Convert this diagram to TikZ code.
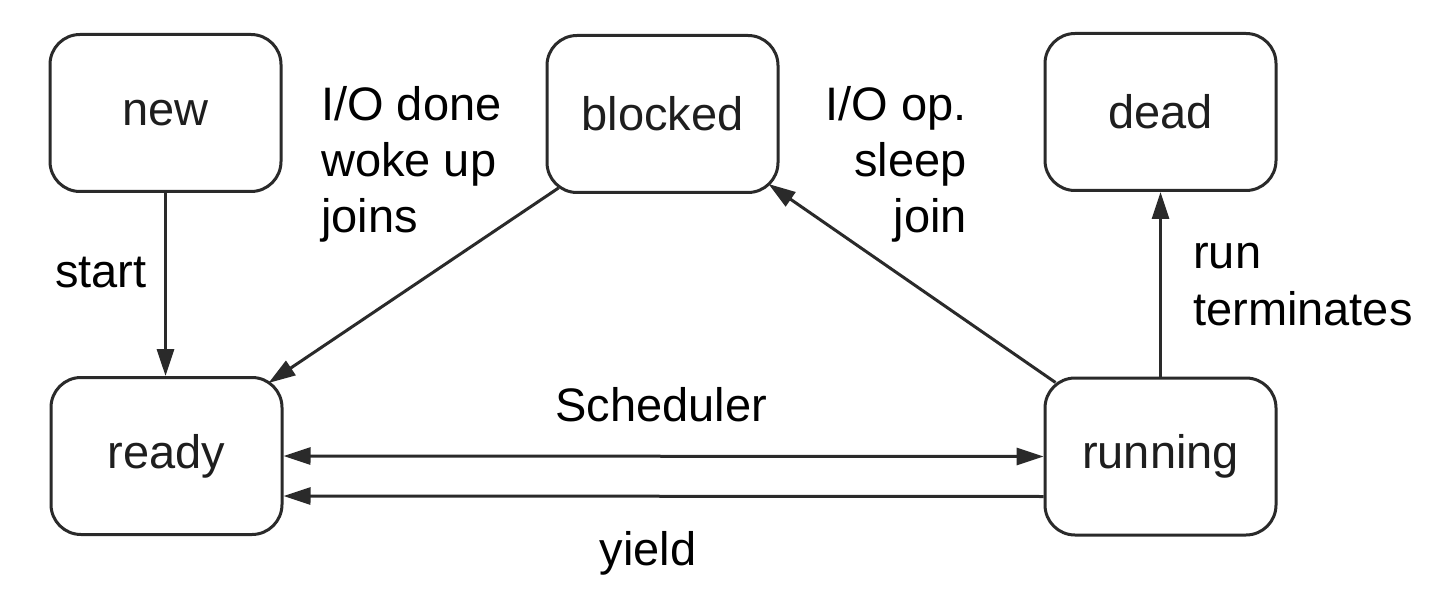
\documentclass[tikz,border=0pt]{standalone}
\usepackage{fontspec}
\setmainfont{Liberation Sans}
\usetikzlibrary{arrows.meta,calc}
\definecolor{lineclr}{HTML}{2A2A2A}
\definecolor{boxtext}{HTML}{1E1E1E}
\tikzset{
  statebox/.style={draw=lineclr, line width=3pt, rounded corners=30pt,
    minimum width=231pt, minimum height=157pt, inner sep=0pt,
    font=\fontsize{47}{56}\selectfont, text=boxtext, fill=white},
  lbl/.style={inner sep=0pt, font=\fontsize{47}{56}\selectfont, text=black},
  conn/.style={draw=lineclr, line width=3pt, -{Triangle[length=27pt,width=17pt]}},
  bconn/.style={draw=lineclr, line width=3pt, {Triangle[length=27pt,width=17pt]}-{Triangle[length=27pt,width=17pt]}}
}
\begin{document}
\begin{tikzpicture}[x=1pt,y=-1pt]
\useasboundingbox[fill=white] (0,0) rectangle (1431,601);
% states
\node[statebox] (new)     at (165.5,113)   {new};
\node[statebox] (blocked) at (662.5,114)   {blocked};
\node[statebox] (dead)    at (1160.5,112)  {dead};
\node[statebox] (ready)   at (166.5,456)   {ready};
\node[statebox] (running) at (1160.5,456.5) {running};
% connectors
\draw[conn] (new.south) -- (new.south |- ready.north);
\draw[conn] ($(blocked.south west)+(13,-6)$) -- ($(ready.north east)+(-15,7)$);
\draw[conn] ($(running.north west)+(12,6)$) -- ($(blocked.south east)+(-11,-10)$);
\draw[conn] (running.north) -- (running.north |- dead.south);
\draw[bconn] (ready.east) -- (running.west);
\coordinate (yieldA) at ($(running.west)+(0,40)$);
\coordinate (yieldB) at ($(ready.east)+(0,40)$);
\draw[conn] (yieldA) -- (yieldB);
% labels (multi-line nodes: base anchor is the last line's baseline)
\node[lbl, anchor=base west] (lstart) at (55,288) {start};
\node[lbl, anchor=base west, align=left] (lwake) at (321,233) {I/O done\\woke up\\joins};
\node[lbl, anchor=base east, align=right] (lio) at (967,233) {I/O op.\\sleep\\join};
\node[lbl, anchor=base west, align=left] (lrun) at (1193,325) {run\\terminates};
\node[lbl, anchor=base] (lsched) at (661,421) {Scheduler};
\node[lbl, anchor=base] (lyield) at (648,565) {yield};
\end{tikzpicture}
\end{document}
